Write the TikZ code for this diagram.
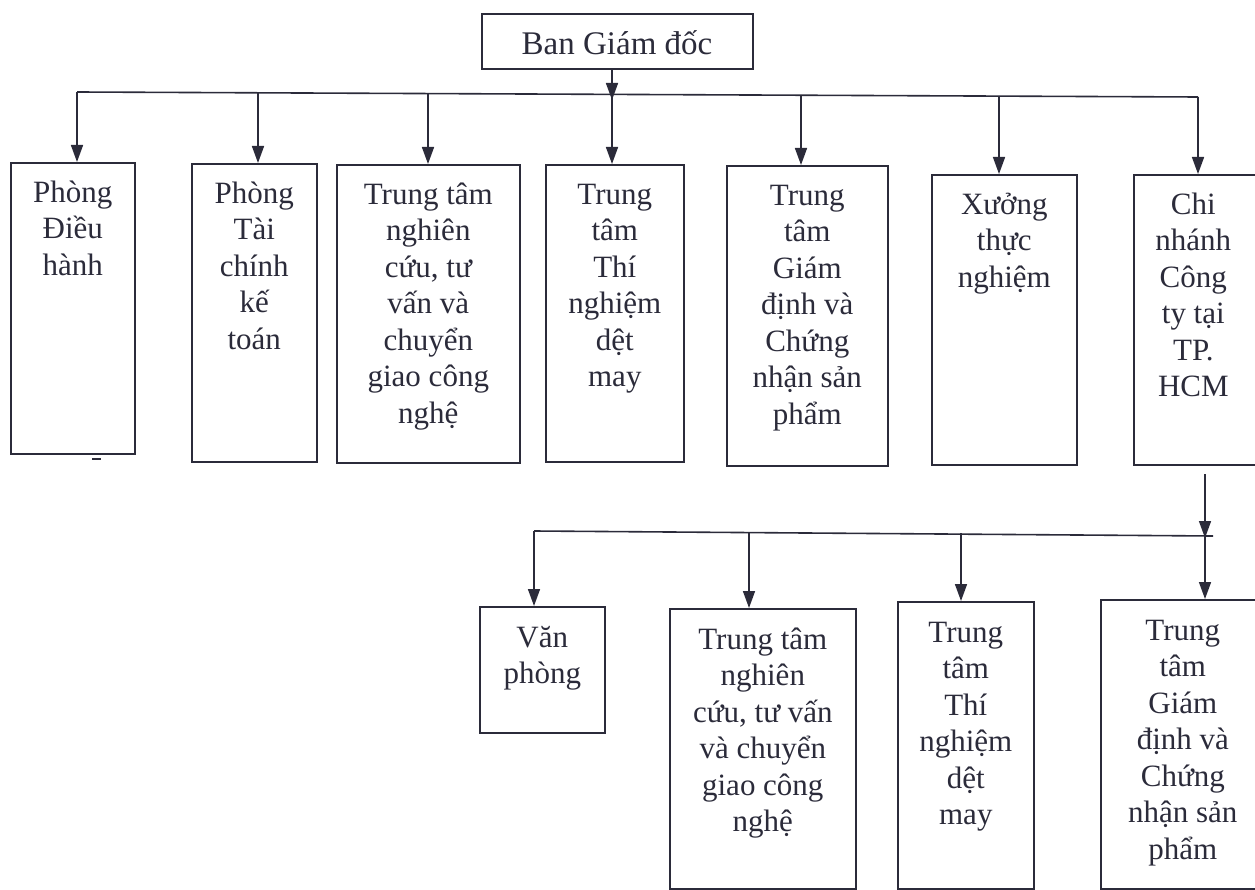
\documentclass[tikz,border=0pt]{standalone}
\usepackage{fontspec}
\setmainfont{Liberation Serif}
\usetikzlibrary{arrows.meta}
\definecolor{ink}{HTML}{2B2B3A}
\begin{document}
\begin{tikzpicture}[x=1pt,y=-1pt,
  line width=1.6pt, draw=ink,
  box/.style={draw=ink, line width=1.6pt, inner sep=0pt, anchor=north west, rectangle},
  txt/.style={inner sep=0pt, anchor=north, align=center, text=ink,
    font=\fontsize{31}{36.5}\selectfont},
  arr/.style={draw=ink, line width=1.6pt, -{Triangle[length=17pt,width=12pt]}},
  ln/.style={draw=ink, line width=1.6pt}]
\useasboundingbox (0,0) rectangle (1255,890);
\clip (0,0) rectangle (1255,890);

% top box
\node[box, minimum width=271pt, minimum height=55pt] (ban) at (481,13) {};
\node[inner sep=0pt, anchor=base, text=ink, font=\fontsize{33}{38}\selectfont] (bant) at (617,55) {Ban Giám đốc};

% first-level boxes
\node[box, minimum width=124pt, minimum height=291pt] (p1) at (10,162) {};
\node[box, minimum width=125pt, minimum height=298pt] (p2) at (191,163) {};
\node[box, minimum width=183pt, minimum height=298pt] (p3) at (336,164) {};
\node[box, minimum width=138pt, minimum height=297pt] (p4) at (545,164) {};
\node[box, minimum width=161pt, minimum height=300pt] (p5) at (726,165) {};
\node[box, minimum width=145pt, minimum height=290pt] (p6) at (931,174) {};
\node[box, minimum width=131pt, minimum height=290pt] (p7) at (1133,174) {};

\node[txt] (p1t) at ([yshift=-14pt]p1.north) {\strut Phòng\\Điều\\hành};
\node[txt] (p2t) at ([yshift=-14pt]p2.north) {\strut Phòng\\Tài\\chính\\kế\\toán};
\node[txt] (p3t) at ([yshift=-14pt]p3.north) {\strut Trung tâm\\nghiên\\cứu, tư\\vấn và\\chuyển\\giao công\\nghệ};
\node[txt] (p4t) at ([yshift=-14pt]p4.north) {\strut Trung\\tâm\\Thí\\nghiệm\\dệt\\may};
\node[txt] (p5t) at ([yshift=-14pt]p5.north) {\strut Trung\\tâm\\Giám\\định và\\Chứng\\nhận sản\\phẩm};
\node[txt] (p6t) at ([yshift=-14pt]p6.north) {\strut Xưởng\\thực\\nghiệm};
\node[txt, xshift=-6pt] (p7t) at ([yshift=-14pt]p7.north) {\strut Chi\\nhánh\\Công\\ty tại\\TP.\\HCM};

% top bus
\coordinate (bl) at (77,92);
\coordinate (br) at (1198,97);
\draw[ln] (bl) -- (br);
\coordinate (bm) at (612,100);
\draw[arr] (ban.south -| bm) -- (bm);
\coordinate (c1) at (77,92);
\coordinate (c2) at (258,93);
\coordinate (c3) at (428,94);
\coordinate (c4) at (612,95);
\coordinate (c5) at (801,95);
\coordinate (c6) at (999,96);
\coordinate (c7) at (1198,97);
\draw[arr] (c1) -- (c1 |- p1.north);
\draw[arr] (c2) -- (c2 |- p2.north);
\draw[arr] (c3) -- (c3 |- p3.north);
\draw[arr] (c4) -- (c4 |- p4.north);
\draw[arr] (c5) -- (c5 |- p5.north);
\draw[arr] (c6) -- (c6 |- p6.north);
\draw[arr] (c7) -- (c7 |- p7.north);

% small mark under first box
\coordinate (m1) at (92,459);
\coordinate (m2) at (101,459);
\draw[ln] (m1) -- (m2);

% second-level boxes
\node[box, minimum width=125pt, minimum height=126pt] (q1) at (479,606) {};
\node[box, minimum width=186pt, minimum height=280pt] (q2) at (669,608) {};
\node[box, minimum width=136pt, minimum height=287pt] (q3) at (897,601) {};
\node[box, minimum width=164pt, minimum height=289pt] (q4) at (1100,599) {};

\node[txt] (q1t) at ([yshift=-15pt]q1.north) {\strut Văn\\phòng};
\node[txt] (q2t) at ([yshift=-15pt]q2.north) {\strut Trung tâm\\nghiên\\cứu, tư vấn\\và chuyển\\giao công\\nghệ};
\node[txt] (q3t) at ([yshift=-15pt]q3.north) {\strut Trung\\tâm\\Thí\\nghiệm\\dệt\\may};
\node[txt] (q4t) at ([yshift=-15pt]q4.north) {\strut Trung\\tâm\\Giám\\định và\\Chứng\\nhận sản\\phẩm};

% second bus
\coordinate (s0) at (1205,474);
\coordinate (sl) at (534,531);
\coordinate (sr) at (1213,536);
\coordinate (sm) at (1205,538);
\draw[ln] (sl) -- (sr);
\draw[arr] (s0) -- (sm);
\coordinate (d1) at (534,531);
\coordinate (d2) at (749,532);
\coordinate (d3) at (961,533);
\coordinate (d4) at (1205,536);
\draw[arr] (d1) -- (d1 |- q1.north);
\draw[arr] (d2) -- (d2 |- q2.north);
\draw[arr] (d3) -- (d3 |- q3.north);
\draw[arr] (d4) -- (d4 |- q4.north);
\end{tikzpicture}
\end{document}
